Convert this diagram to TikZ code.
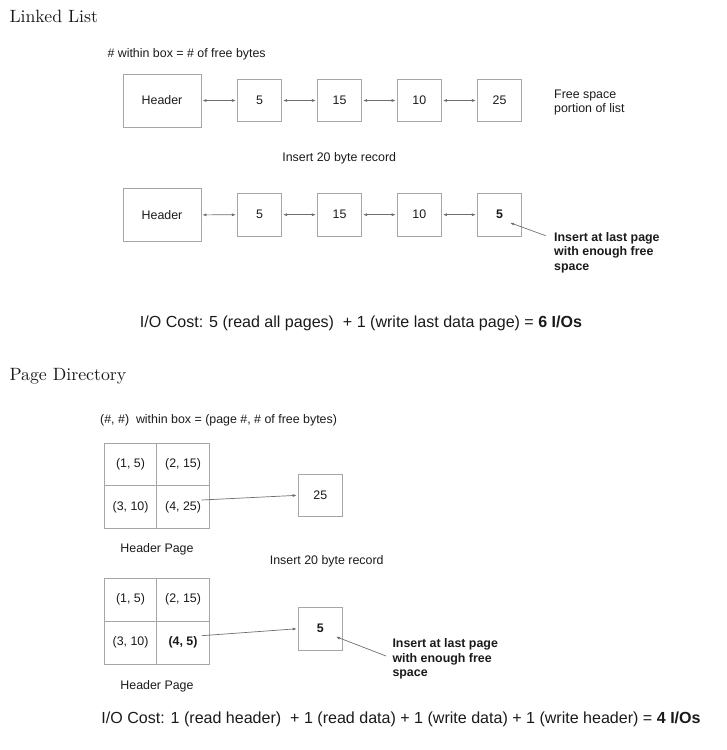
\documentclass[tikz,border=0pt]{standalone}
\usepackage{fontspec}
\newfontfamily\arial{Liberation Sans}
\newfontfamily\lmten{lmroman10-regular}[Extension=.otf]
\usetikzlibrary{arrows.meta}
\definecolor{boxgray}{HTML}{A6A6A6}
\definecolor{arrgray}{HTML}{6E6E6E}
\definecolor{txt}{HTML}{1A1A1A}
\begin{document}
\begin{tikzpicture}[x=1pt,y=-1pt,
  every node/.style={inner sep=0pt, text=txt},
  sans/.style={font=\arial\fontsize{12.4}{14.5}\selectfont},
  big/.style={font=\arial\fontsize{16.05}{19}\selectfont},
  heading/.style={font=\lmten\fontsize{17.8}{21}\selectfont},
  hbox/.style={draw=boxgray, line width=0.8pt, sans, minimum width=78pt, minimum height=53pt},
  pbox/.style={draw=boxgray, line width=0.8pt, sans, minimum width=44.4pt, minimum height=42.7pt},
  cell/.style={draw=boxgray, line width=0.8pt, sans, minimum width=52.5pt, minimum height=42.6pt},
  link/.style={draw=arrgray, line width=0.7pt, shorten <=1pt, shorten >=1pt, {Latex[length=4pt,width=3pt]}-{Latex[length=4pt,width=3pt]}},
  ptr/.style={draw=arrgray, line width=0.7pt, -{Latex[length=4pt,width=3pt]}},
]
\useasboundingbox (0,0) rectangle (727,750);

% ---------- Linked List ----------
\node[heading, anchor=base west] (t1) at (9.3,22.9) {Linked List};
\node[sans, anchor=base west] (leg1) at (107.3,57.4) {\# within box = \# of free bytes};

\node[hbox] (h1) at (162,100.5) {Header};
\node[pbox] (a1) at (259.5,100.5) {5};
\node[pbox] (b1) at (339.5,100.5) {15};
\node[pbox] (c1) at (419.3,100.5) {10};
\node[pbox] (d1) at (499.5,100.5) {25};
\draw[link] (h1) -- (a1);
\draw[link] (a1) -- (b1);
\draw[link] (b1) -- (c1);
\draw[link] (c1) -- (d1);
\node[sans, anchor=north west, align=left] (fs) at (554,89.3) {Free space\\portion of list};

\node[sans, anchor=base] (ins1) at (339.2,161.8) {Insert 20 byte record};

\node[hbox] (h2) at (162,215) {Header};
\node[pbox] (a2) at (259.5,214.7) {5};
\node[pbox] (b2) at (339.5,214.7) {15};
\node[pbox] (c2) at (419.3,214.7) {10};
\node[pbox] (d2) at (499.5,214.7) {\bfseries 5};
\draw[link] (h2) -- (a2);
\draw[link] (a2) -- (b2);
\draw[link] (b2) -- (c2);
\draw[link] (c2) -- (d2);
\node[sans, font=\arial\bfseries\fontsize{12.4}{14.7}\selectfont, anchor=north west, align=left] (note1) at (554,232) {Insert at last page\\with enough free\\space};
\coordinate (n1s) at (545.7,235.7);
\coordinate (n1e) at (510,222.7);
\draw[ptr] (n1s) -- (n1e);

\node[big, anchor=base] (cost1) at (361,327.3) {I/O Cost: 5 (read all pages)~ + 1 (write last data page) = \textbf{6 I/Os}};

% ---------- Page Directory ----------
\node[heading, anchor=base west] (t2) at (9.3,380.6) {Page Directory};
\node[sans, anchor=base west] (leg2) at (100,423.4) {(\#, \#)~ within box = (page \#, \# of free bytes)};

\node[cell] (g11) at (130.55,464.55) {(1, 5)};
\node[cell] (g12) at (183.05,464.55) {(2, 15)};
\node[cell] (g13) at (130.55,507.05) {(3, 10)};
\node[cell] (g14) at (183.05,507.05) {(4, 25)};
\node[pbox] (p25) at (320.3,495.3) {25};
\coordinate (s1) at (201.7,500);
\draw[ptr, shorten >=1pt] (s1) -- (p25.west);
\node[sans, anchor=base] (hp1) at (157,552.4) {Header Page};

\node[sans, anchor=base] (ins2) at (326.7,564.1) {Insert 20 byte record};

\node[cell] (g21) at (130.55,599.7) {(1, 5)};
\node[cell] (g22) at (183.05,599.7) {(2, 15)};
\node[cell] (g23) at (130.55,642.6) {(3, 10)};
\node[cell] (g24) at (183.05,642.6) {\bfseries (4, 5)};
\node[pbox] (p5) at (320.3,628.7) {\bfseries 5};
\coordinate (s2) at (201.7,635.7);
\draw[ptr, shorten >=1pt] (s2) -- (p5.west);
\node[sans, anchor=base] (hp2) at (157,689.1) {Header Page};

\node[sans, font=\arial\bfseries\fontsize{12.4}{14.6}\selectfont, anchor=north west, align=left] (note2) at (392.3,638.3) {Insert at last page\\with enough free\\space};
\coordinate (n2s) at (386,656);
\coordinate (n2e) at (336,636.7);
\draw[ptr] (n2s) -- (n2e);

\node[big, anchor=base] (cost2) at (401,723) {I/O Cost: 1 (read header)~ + 1 (read data) + 1 (write data) + 1 (write header) = \textbf{4 I/Os}};
\end{tikzpicture}
\end{document}
